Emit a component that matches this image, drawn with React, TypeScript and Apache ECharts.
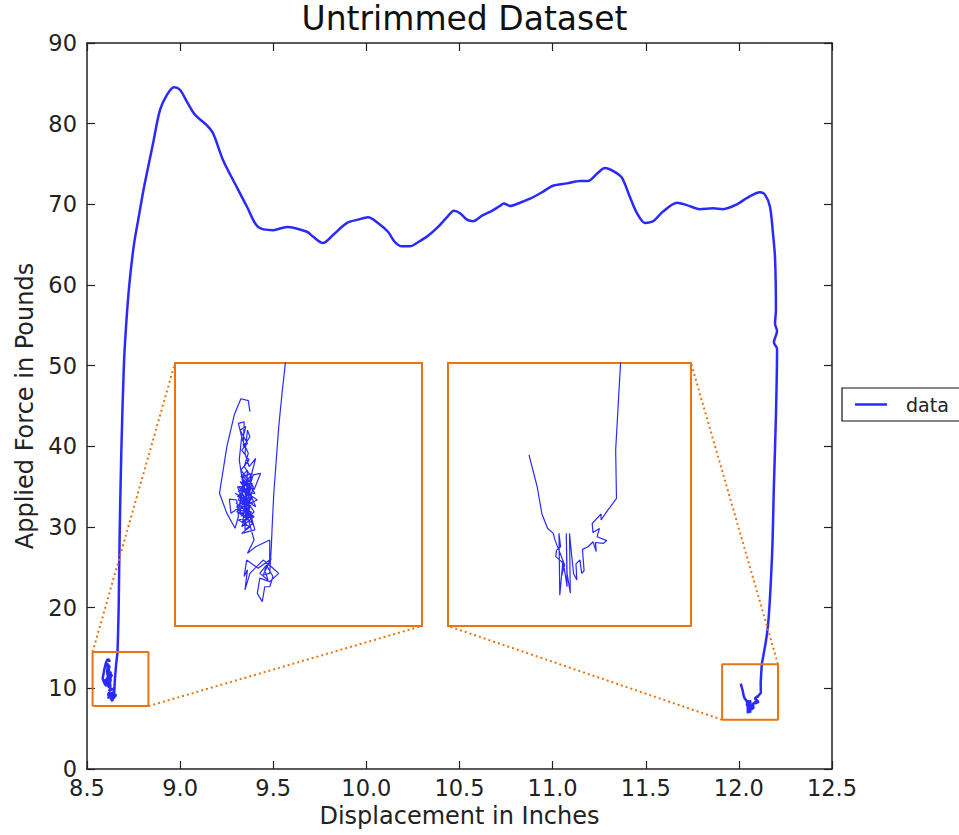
import React, { useEffect, useRef } from "react";
import * as echarts from "echarts";

// ---------- data ----------
// x: displacement (inches), y: applied force (pounds)
const startCluster: [number, number][] = [
  [8.621, 13.26], [8.619, 13.54], [8.61, 13.59], [8.602, 13.18], [8.593, 12.37],
  [8.584, 11.18], [8.593, 10.67], [8.603, 10.29], [8.607, 10.59], [8.605, 11.01],
  [8.596, 11.03], [8.598, 10.67], [8.609, 10.84], [8.613, 11.35], [8.608, 12.03],
  [8.611, 12.62], [8.607, 12.96], [8.614, 13.0], [8.613, 12.37], [8.621, 12.62],
  [8.618, 12.79], [8.615, 12.2], [8.62, 11.86], [8.628, 12.07], [8.621, 11.52],
  [8.626, 11.27], [8.634, 11.69], [8.625, 11.65], [8.618, 11.18], [8.63, 11.01],
  [8.611, 10.84], [8.625, 10.59], [8.607, 10.5], [8.621, 10.33], [8.611, 10.16],
  [8.627, 10.25], [8.617, 11.01], [8.603, 11.18], [8.628, 10.84], [8.614, 11.52],
  [8.607, 10.75], [8.623, 10.71], [8.612, 10.42], [8.619, 11.35], [8.606, 11.1],
  [8.624, 10.93], [8.61, 10.59], [8.622, 11.1], [8.605, 10.84], [8.617, 10.5],
  [8.626, 10.71], [8.611, 11.18], [8.62, 10.84], [8.608, 11.35], [8.624, 11.43],
  [8.614, 10.93], [8.625, 10.42], [8.615, 10.25],
  [8.618, 11.77], [8.61, 11.6], [8.624, 11.69], [8.607, 11.22], [8.627, 11.18],
  [8.612, 11.65], [8.619, 10.59], [8.605, 10.71], [8.624, 11.05], [8.609, 11.48],
  [8.622, 11.31], [8.615, 10.75], [8.604, 10.93], [8.626, 10.59], [8.611, 10.33],
  [8.621, 10.84], [8.607, 11.01], [8.619, 11.56], [8.615, 10.42], [8.625, 11.35],
  [8.61, 11.77], [8.62, 12.03], [8.611, 12.28], [8.618, 12.45], [8.609, 12.79],
  [8.616, 12.88], [8.612, 12.54], [8.619, 12.2], [8.614, 11.86], [8.623, 11.6],
  [8.608, 10.67], [8.624, 10.42], [8.613, 11.05], [8.621, 11.18], [8.606, 11.35],
  [8.617, 10.67],
  [8.626, 9.99], [8.618, 9.65],
  [8.628, 9.82], [8.645, 9.99], [8.645, 9.48], [8.631, 9.27], [8.617, 9.48],
  [8.614, 9.06], [8.618, 9.23], [8.615, 8.72], [8.621, 9.14], [8.637, 9.48],
  [8.647, 9.31], [8.656, 9.14], [8.645, 8.93], [8.633, 9.02], [8.63, 8.63],
  [8.636, 8.42], [8.639, 8.8], [8.645, 8.8], [8.649, 9.06], [8.641, 9.35],
  [8.633, 9.14], [8.643, 8.97], [8.639, 9.23], [8.647, 9.52], [8.637, 9.1],
  [8.645, 9.14], [8.647, 9.82], [8.648, 10.33], [8.65, 11.18], [8.653, 12.03],
  [8.656, 12.88], [8.66, 13.73], [8.664, 14.49],
];

const loadCurve: [number, number][] = [
  [8.667, 17.0], [8.67, 20.0], [8.676, 30.0], [8.685, 40.0], [8.698, 50.0],
  [8.71, 55.0], [8.727, 60.0], [8.752, 65.0], [8.782, 69.0], [8.805, 72.0],
  [8.83, 74.8], [8.855, 77.6], [8.892, 81.7], [8.93, 83.6], [8.967, 84.5],
  [8.999, 84.2], [9.037, 82.7], [9.08, 81.1], [9.144, 79.8], [9.177, 78.8],
  [9.23, 75.5], [9.305, 72.1], [9.359, 69.7], [9.418, 67.2], [9.499, 66.8],
  [9.574, 67.2], [9.681, 66.6], [9.713, 66.0], [9.767, 65.2], [9.821, 66.2],
  [9.896, 67.7], [9.955, 68.1], [10.009, 68.4], [10.062, 67.7], [10.116, 66.6],
  [10.154, 65.3], [10.191, 64.8], [10.234, 64.8], [10.277, 65.3], [10.331, 66.1],
  [10.385, 67.2], [10.433, 68.4], [10.47, 69.2], [10.503, 68.9], [10.54, 68.1],
  [10.572, 67.9], [10.621, 68.6], [10.674, 69.2], [10.717, 69.8], [10.738, 70.1],
  [10.771, 69.8], [10.825, 70.2], [10.879, 70.7], [10.943, 71.5], [11.002, 72.3],
  [11.077, 72.6], [11.147, 72.9], [11.19, 72.9], [11.238, 73.8], [11.281, 74.5],
  [11.335, 74.0], [11.372, 73.3], [11.415, 70.9], [11.453, 68.9], [11.496, 67.7],
  [11.539, 67.9], [11.593, 69.1], [11.668, 70.2], [11.721, 69.9], [11.791, 69.4],
  [11.861, 69.5], [11.915, 69.4], [11.99, 70.0], [12.044, 70.8], [12.113, 71.5],
  [12.14, 71.2], [12.167, 69.7], [12.183, 66.4], [12.194, 63.4], [12.199, 56.9],
  [12.194, 55.2], [12.205, 54.3], [12.188, 52.9], [12.205, 52.1], [12.199, 43.8],
  [12.188, 35.1], [12.178, 26.4], [12.156, 17.7],
];

const endCluster: [number, number][] = [
  [12.123, 12.99], [12.117, 10.72], [12.118, 9.45], [12.106, 9.1], [12.099, 8.88],
  [12.099, 9.04], [12.088, 8.79], [12.089, 8.55], [12.097, 8.66], [12.094, 8.44],
  [12.106, 8.34], [12.102, 8.27], [12.092, 8.29], [12.093, 8.05], [12.089, 8.31],
  [12.083, 8.18], [12.076, 8.11], [12.078, 7.55], [12.075, 7.48], [12.073, 7.83],
  [12.068, 7.73], [12.069, 7.31], [12.065, 7.48], [12.063, 7.88], [12.06, 8.53],
  [12.061, 6.96], [12.057, 7.48], [12.056, 8.53], [12.057, 7.13], [12.052, 7.83],
  [12.048, 6.91], [12.047, 8.53], [12.049, 8.18], [12.044, 8.09], [12.043, 7.92],
  [12.053, 7.74], [12.05, 7.39], [12.054, 7.7], [12.042, 8.36], [12.04, 8.53],
  [12.033, 8.66], [12.026, 9.04], [12.02, 9.76], [12.01, 10.59],
];

const xRange = [8.5, 12.5];
const xInterval = 0.5;
const yRange = [0, 90];
const yInterval = 10;

// zoomed windows (inset axes limits)
const leftZoomX = [8.53, 8.83];
const leftZoomY = [7.8, 14.5];
const rightZoomX = [11.91, 12.21];
const rightZoomY = [6.1, 13.0];

// ---------- layout / style ----------
const W = 959;
const H = 835;
const MAIN = { left: 87, top: 43, width: 745, height: 726 };
const INSET_L = { left: 175, top: 363, width: 247, height: 263 };
const INSET_R = { left: 448, top: 363, width: 243, height: 263 };
const BLUE = "#2a2aff";
const ORANGE = "#e87511";
const AXIS = "#222";
const FONT = "DejaVu Sans";

function pxToMain(px: number, py: number): [number, number] {
  return [
    xRange[0] + ((px - MAIN.left) / MAIN.width) * (xRange[1] - xRange[0]),
    yRange[1] - ((py - MAIN.top) / MAIN.height) * (yRange[1] - yRange[0]),
  ];
}

function rectPath(xr: number[], yr: number[]): [number, number][] {
  return [
    [xr[0], yr[0]], [xr[1], yr[0]], [xr[1], yr[1]], [xr[0], yr[1]], [xr[0], yr[0]],
  ];
}

export default function App() {
  const ref = useRef<HTMLDivElement>(null);
  useEffect(() => {
    if (!ref.current) return;
    const chart = echarts.init(ref.current, undefined, { renderer: "svg" });
    const all = [...startCluster, ...loadCurve, ...endCluster];
    const middle = [startCluster[startCluster.length - 1], ...loadCurve, endCluster[0]];

    const lTL = pxToMain(INSET_L.left, INSET_L.top);
    const lBR = pxToMain(INSET_L.left + INSET_L.width, INSET_L.top + INSET_L.height);
    const rBL = pxToMain(INSET_R.left, INSET_R.top + INSET_R.height);
    const rTR = pxToMain(INSET_R.left + INSET_R.width, INSET_R.top);

    const mainTick = { show: true, inside: true, length: 8, lineStyle: { color: AXIS, width: 1.2 } };
    const mainLine = { show: true, onZero: false, lineStyle: { color: AXIS, width: 1.5 } };
    const hiddenAxis = (gridIndex: number, r: number[]) => ({
      type: "value", gridIndex, min: r[0], max: r[1], show: false, splitLine: { show: false },
    });
    const dotted = { color: ORANGE, width: 2, type: [2, 3] as any };
    const mainSeries = (d: [number, number][], smooth: number | boolean) => ({
      name: "data", type: "line", xAxisIndex: 0, yAxisIndex: 0, data: d, showSymbol: false, symbol: "none",
      smooth, lineStyle: { color: BLUE, width: 2.5 }, itemStyle: { color: BLUE }, z: 4,
    });

    chart.setOption({
      animation: false,
      backgroundColor: "#fff",
      title: {
        text: "Untrimmed Dataset",
        left: MAIN.left + MAIN.width / 2,
        textAlign: "center",
        top: -3,
        textStyle: { fontFamily: FONT, fontSize: 33, fontWeight: "normal", color: "#111" },
      },
      legend: {
        data: ["data"],
        left: 842,
        top: 388,
        orient: "vertical",
        selectedMode: false,
        borderColor: "#111",
        borderWidth: 1.2,
        borderRadius: 0,
        padding: [7, 40, 7, 13],
        icon: "rect",
        itemWidth: 32,
        itemHeight: 2.5,
        textStyle: { fontFamily: FONT, fontSize: 19, color: "#222", padding: [0, 0, 0, 14] },
      },
      grid: [
        { ...MAIN, containLabel: false },
        { ...INSET_L, show: true, borderColor: ORANGE, borderWidth: 2, backgroundColor: "#fff", z: 3 },
        { ...INSET_R, show: true, borderColor: ORANGE, borderWidth: 2, backgroundColor: "#fff", z: 3 },
      ],
      xAxis: [
        {
          type: "value", gridIndex: 0, position: "bottom", min: xRange[0], max: xRange[1], interval: xInterval,
          axisLine: mainLine, axisTick: mainTick, splitLine: { show: false },
          axisLabel: {
            margin: 7, fontFamily: FONT, fontSize: 22.5, color: "#222", showMinLabel: true, showMaxLabel: true,
            formatter: (v: number) => v.toFixed(1),
          },
          name: "Displacement in Inches", nameLocation: "middle", nameGap: 34,
          nameTextStyle: { fontFamily: FONT, fontSize: 24, color: "#222" },
        },
        {
          type: "value", gridIndex: 0, position: "top", min: xRange[0], max: xRange[1], interval: xInterval,
          axisLine: mainLine, axisTick: mainTick, splitLine: { show: false }, axisLabel: { show: false },
        },
        hiddenAxis(1, leftZoomX),
        hiddenAxis(2, rightZoomX),
      ],
      yAxis: [
        {
          type: "value", gridIndex: 0, position: "left", min: yRange[0], max: yRange[1], interval: yInterval,
          axisLine: mainLine, axisTick: mainTick, splitLine: { show: false },
          axisLabel: { margin: 10, fontFamily: FONT, fontSize: 22.5, color: "#222", showMinLabel: true, showMaxLabel: true },
          name: "Applied Force in Pounds", nameLocation: "middle", nameGap: 50,
          nameTextStyle: { fontFamily: FONT, fontSize: 24, color: "#222" },
        },
        {
          type: "value", gridIndex: 0, position: "right", min: yRange[0], max: yRange[1], interval: yInterval,
          axisLine: mainLine, axisTick: mainTick, splitLine: { show: false }, axisLabel: { show: false },
        },
        hiddenAxis(1, leftZoomY),
        hiddenAxis(2, rightZoomY),
      ],
      series: [
        mainSeries(startCluster, false),
        mainSeries(middle, 0.3),
        mainSeries(endCluster, false),
        {
          name: "inset-left", type: "line", xAxisIndex: 2, yAxisIndex: 2, data: all, showSymbol: false, symbol: "none",
          lineStyle: { color: BLUE, width: 1.2 }, z: 6, clip: true,
        },
        {
          name: "inset-right", type: "line", xAxisIndex: 3, yAxisIndex: 3, data: all, showSymbol: false, symbol: "none",
          lineStyle: { color: BLUE, width: 1.2 }, z: 6, clip: true,
        },
        {
          type: "line", xAxisIndex: 0, yAxisIndex: 0, data: rectPath(leftZoomX, leftZoomY), symbol: "none",
          lineStyle: { color: ORANGE, width: 2 }, silent: true, z: 5,
        },
        {
          type: "line", xAxisIndex: 0, yAxisIndex: 0, data: rectPath(rightZoomX, rightZoomY), symbol: "none",
          lineStyle: { color: ORANGE, width: 2 }, silent: true, z: 5,
        },
        {
          type: "line", xAxisIndex: 0, yAxisIndex: 0, data: [[leftZoomX[0], leftZoomY[1]], lTL], symbol: "none",
          lineStyle: dotted, silent: true, z: 5,
        },
        {
          type: "line", xAxisIndex: 0, yAxisIndex: 0, data: [[leftZoomX[1], leftZoomY[0]], lBR], symbol: "none",
          lineStyle: dotted, silent: true, z: 5,
        },
        {
          type: "line", xAxisIndex: 0, yAxisIndex: 0, data: [[rightZoomX[0], rightZoomY[0]], rBL], symbol: "none",
          lineStyle: dotted, silent: true, z: 5,
        },
        {
          type: "line", xAxisIndex: 0, yAxisIndex: 0, data: [[rightZoomX[1], rightZoomY[1]], rTR], symbol: "none",
          lineStyle: dotted, silent: true, z: 5,
        },
      ],
    });
    return () => chart.dispose();
  }, []);

  return (
    <div
      ref={ref}
      style={{ position: "fixed", left: 0, top: 0, width: W, height: H, background: "#fff" }}
    />
  );
}
